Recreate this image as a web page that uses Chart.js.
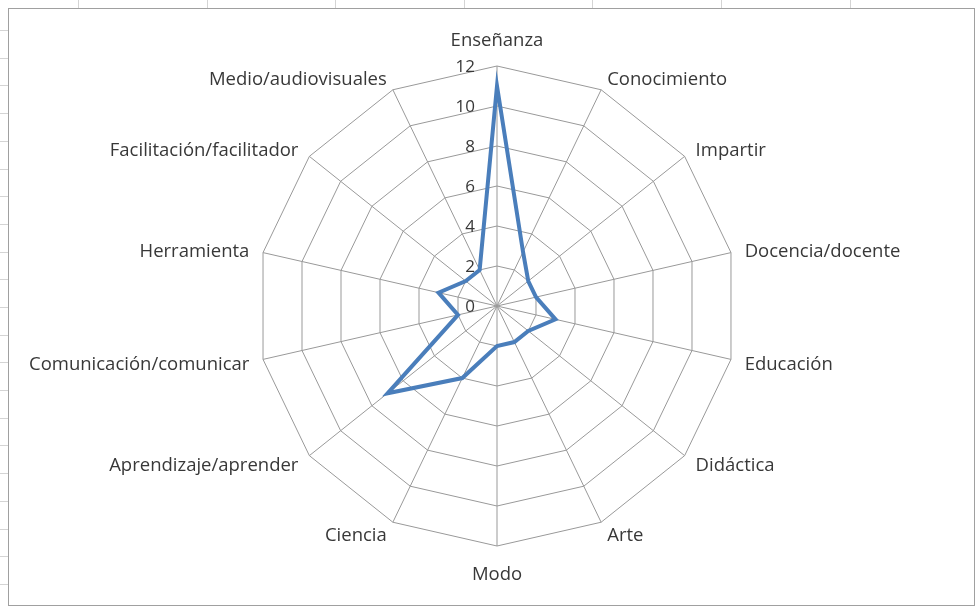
<!DOCTYPE html>
<html>
<head>
<meta charset="utf-8">
<script src="https://cdn.jsdelivr.net/npm/chart.js@4/dist/chart.umd.min.js"></script>
<style>
    body { margin: 0; background: #ffffff; }
    canvas { display: block; }
</style>
</head>
<body>
<canvas id="radarChart" width="977" height="607"></canvas>
<script>
const categories = [
    "Enseñanza", "Conocimiento", "Impartir", "Docencia/docente", "Educación",
    "Didáctica", "Arte", "Modo", "Ciencia", "Aprendizaje/aprender",
    "Comunicación/comunicar", "Herramienta", "Facilitación/facilitador", "Medio/audiovisuales"
];
const frequencies = [11, 3, 2, 2, 3, 2, 2, 2, 4, 7, 2, 3, 2, 2];
const tickValues = [0, 2, 4, 6, 8, 10, 12];

const gridColor = "#999999";
const textColor = "#383838";
const labelFont = "18.5px 'Open Sans'";

// frame round the chart box, plus the sheet gridline stubs peeking out
const frame = {
    id: "frame",
    beforeDraw(chart) {
        const ctx = chart.ctx;
        ctx.save();
        ctx.strokeStyle = "#d4d4d4";
        ctx.lineWidth = 1;
        ctx.beginPath();
        for (let y = 30; y < 600; y += 27.7) {
            ctx.moveTo(0, Math.round(y) + 0.5);
            ctx.lineTo(8, Math.round(y) + 0.5);
        }
        for (let x = 78; x < 970; x += 128.6) {
            ctx.moveTo(Math.round(x) + 0.5, 0);
            ctx.lineTo(Math.round(x) + 0.5, 8);
        }
        ctx.stroke();
        ctx.strokeStyle = "#a0a0a0";
        ctx.strokeRect(8.5, 8.5, 966, 597);
        ctx.restore();
    }
};

// category names placed the spreadsheet way: beside the spoke end, centred on it
const spokeText = {
    id: "spokeText",
    afterDraw(chart) {
        const scale = chart.scales.r;
        const ctx = chart.ctx;
        ctx.save();
        ctx.font = labelFont;
        ctx.fillStyle = textColor;
        ctx.textBaseline = "middle";
        scale.getLabels().forEach((label, i) => {
            const a = scale.getIndexAngle(i);
            const dx = Math.sin(a), dy = -Math.cos(a);
            const p = scale.getPointPosition(i, scale.drawingArea);
            if (Math.abs(dx) < 0.05) {
                ctx.textAlign = "center";
                ctx.fillText(label, p.x, p.y + dy * 27 + 2);
            } else {
                ctx.textAlign = dx > 0 ? "left" : "right";
                ctx.fillText(label, p.x + dx * 14, p.y + dy * 13 + 2);
            }
        });
        ctx.restore();
    }
};

// tick labels sit to the left of the vertical axis
const tickText = {
    id: "tickText",
    afterDraw(chart) {
        const scale = chart.scales.r;
        const ctx = chart.ctx;
        ctx.save();
        ctx.font = "17px 'Open Sans'";
        ctx.fillStyle = textColor;
        ctx.textAlign = "right";
        ctx.textBaseline = "middle";
        scale.ticks.forEach(t => {
            const d = scale.getDistanceFromCenterForValue(t.value);
            ctx.fillText(String(t.value), scale.xCenter - 22, scale.yCenter - d + 1);
        });
        ctx.restore();
    }
};

new Chart(document.getElementById("radarChart"), {
    type: "radar",
    data: {
        labels: categories,
        datasets: [{
            data: frequencies,
            borderColor: "#4a7ebb",
            borderWidth: 4,
            fill: false,
            pointRadius: 0,
            pointHoverRadius: 0,
            borderJoinStyle: "miter",
        }],
    },
    options: {
        responsive: false,
        animation: false,
        layout: { padding: { left: 17, right: 0, top: 66, bottom: 61 } },
        plugins: {
            legend: { display: false },
            tooltip: { enabled: false },
        },
        scales: {
            r: {
                min: 0,
                max: 12,
                afterBuildTicks: (scale) => {
                    scale.ticks = tickValues.map(v => ({ value: v }));
                },
                ticks: { display: false },
                grid: { color: gridColor, lineWidth: 1, circular: false },
                angleLines: { color: gridColor, lineWidth: 1 },
                pointLabels: { display: false },
            },
        },
    },
    plugins: [frame, spokeText, tickText],
});
</script>
</body>
</html>
